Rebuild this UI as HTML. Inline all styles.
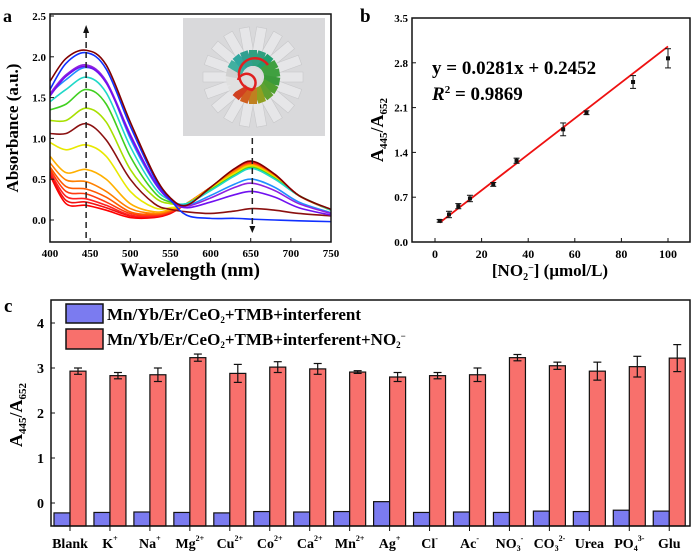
<!DOCTYPE html>
<html><head><meta charset="utf-8"><style>
html,body{margin:0;padding:0;background:#fff}
svg{display:block;font-family:"Liberation Serif",serif;font-weight:bold}
</style></head><body>
<svg id="fig" width="700" height="553" viewBox="0 0 700 553" xmlns="http://www.w3.org/2000/svg">
<g id="pa"></g>
<g id="pb"></g>
<g id="pc"></g>
</svg>
<script>
// ---------- Panel a data ----------
const waves = [400,420,445,470,500,530,550,570,600,630,652,680,710,750];
const specColors = ["#ff0000","#f01010","#ff2020","#ff3a10","#ff5a00","#ff8000","#ffb000","#e8e800","#8b1010","#a8e000","#40d020","#20d8c8","#2090ff","#9020e0","#7010f0","#1030ff","#800000"];
const specValues = [
[0.55,0.20,0.18,0.12,0.03,0.03,0.08,0.20,0.40,0.62,0.71,0.56,0.30,0.12],
[0.57,0.24,0.22,0.15,0.05,0.04,0.09,0.20,0.40,0.62,0.70,0.55,0.30,0.12],
[0.59,0.29,0.26,0.18,0.06,0.05,0.10,0.20,0.40,0.61,0.70,0.55,0.30,0.12],
[0.62,0.35,0.32,0.22,0.08,0.06,0.10,0.20,0.40,0.60,0.69,0.54,0.30,0.12],
[0.65,0.41,0.38,0.28,0.10,0.07,0.11,0.20,0.40,0.60,0.68,0.54,0.30,0.12],
[0.70,0.49,0.47,0.35,0.14,0.08,0.12,0.20,0.40,0.60,0.68,0.53,0.30,0.12],
[0.78,0.58,0.62,0.50,0.20,0.10,0.13,0.20,0.39,0.58,0.67,0.53,0.30,0.12],
[0.95,0.86,0.92,0.78,0.35,0.15,0.15,0.20,0.38,0.57,0.66,0.52,0.30,0.12],
[1.06,1.06,1.18,0.98,0.50,0.20,0.13,0.10,0.08,0.11,0.14,0.12,0.08,0.05],
[1.22,1.22,1.37,1.20,0.62,0.28,0.20,0.20,0.37,0.55,0.65,0.51,0.30,0.12],
[1.35,1.42,1.60,1.42,0.78,0.34,0.22,0.20,0.37,0.55,0.64,0.51,0.30,0.12],
[1.45,1.60,1.75,1.56,0.90,0.40,0.24,0.20,0.36,0.54,0.63,0.50,0.30,0.12],
[1.55,1.72,1.87,1.70,1.00,0.46,0.25,0.18,0.30,0.44,0.50,0.40,0.22,0.09],
[1.55,1.78,1.90,1.70,1.05,0.48,0.25,0.17,0.27,0.40,0.45,0.36,0.20,0.08],
[1.52,1.76,1.88,1.68,1.03,0.47,0.24,0.15,0.22,0.31,0.35,0.28,0.15,0.06],
[1.60,1.92,2.05,1.85,1.15,0.52,0.25,0.06,0.02,0.02,0.01,0.00,-0.01,-0.02],
[1.70,1.98,2.08,1.90,1.20,0.55,0.27,0.18,0.40,0.63,0.72,0.56,0.30,0.13]
];
const aXTicks = [400,450,500,550,600,650,700,750];
const aYTicks = [0.0,0.5,1.0,1.5,2.0,2.5];
// ---------- Panel b data ----------
const bConc = [2,6,10,15,25,35,55,65,85,100];
const bRatio = [0.33,0.43,0.56,0.68,0.90,1.27,1.76,2.02,2.50,2.87];
const bErr = [0.02,0.05,0.04,0.05,0.03,0.04,0.10,0.03,0.10,0.15];
const bFit = [0.0281,0.2452];
const bXTicks = [0,20,40,60,80,100];
const bYTicks = [0.0,0.7,1.4,2.1,2.8,3.5];
// ---------- Panel c data ----------
const cCats = ["Blank","K","Na","Mg","Cu","Co","Ca","Mn","Ag","Cl","Ac","NO","CO","Urea","PO","Glu"];
const cSup = ["","+","+","2+","2+","2+","2+","2+","+","-","-","-","2-","","3-",""];
const cSub = ["","","","","","","","","","","","3","3","","4",""];
const cBlue = [-0.22,-0.21,-0.20,-0.21,-0.22,-0.19,-0.20,-0.19,0.03,-0.21,-0.20,-0.21,-0.18,-0.19,-0.16,-0.18];
const cRed = [2.93,2.83,2.85,3.23,2.88,3.02,2.98,2.91,2.80,2.83,2.85,3.23,3.05,2.93,3.03,3.22];
const cErr = [0.07,0.07,0.15,0.08,0.20,0.12,0.12,0.03,0.10,0.07,0.15,0.07,0.08,0.20,0.23,0.30];
const cYTicks = [0,1,2,3,4];

const NS="http://www.w3.org/2000/svg";
function mk(parent,tag,attrs,text){const e=document.createElementNS(NS,tag);for(const k in attrs)e.setAttribute(k,attrs[k]);if(text!==undefined)e.textContent=text;parent.appendChild(e);return e;}
function smooth(pts){let d="M"+pts[0][0]+","+pts[0][1];for(let i=0;i<pts.length-1;i++){const p0=pts[i-1]||pts[i],p1=pts[i],p2=pts[i+1],p3=pts[i+2]||p2;const c1x=p1[0]+(p2[0]-p0[0])/6,c1y=p1[1]+(p2[1]-p0[1])/6,c2x=p2[0]-(p3[0]-p1[0])/6,c2y=p2[1]-(p3[1]-p1[1])/6;d+=`C${c1x},${c1y} ${c2x},${c2y} ${p2[0]},${p2[1]}`;}return d;}

// ===== Panel a =====
const pa=document.getElementById('pa');
const ax=w=>50+(w-400)*(281/350), ay=v=>220-v*81.6;
const ins=mk(pa,'g',{});


mk(ins,'rect',{x:183,y:18,width:142,height:118,fill:"#d9d9db"});
for(let i=0;i<18;i++){const an=i*20*Math.PI/180;const cx=253+Math.cos(an)*36,cy=77+Math.sin(an)*36;
 mk(ins,'rect',{x:cx-5,y:cy-14,width:10,height:28,fill:"#e6e6e8",stroke:"#c8c8ca","stroke-width":0.6,transform:`rotate(${i*20+90} ${cx} ${cy})`});}
const petal=["#30a080","#30a080","#20a070","#40a040","#40a040","#3a9a3a","#50a030","#60a030","#90a020","#c08020","#d06020","#d04020","#e0e0e0","#e0e0e0","#d0d0d0","#40b0a0","#30a8a0","#30a090"];
for(let i=0;i<18;i++){const an=(i*20-90)*Math.PI/180;const cx=253+Math.cos(an)*19,cy=77+Math.sin(an)*19;
 mk(ins,'rect',{x:cx-4,y:cy-8,width:8,height:16,fill:petal[i],transform:`rotate(${i*20} ${cx} ${cy})`});}
mk(ins,'circle',{cx:253,cy:77,r:9,fill:"#dcdcdc"});
mk(ins,'path',{d:"M238,80 A9,9 0 1 1 252,90 A16,16 0 1 1 268,65",fill:"none",stroke:"#e02020","stroke-width":2.5});
specValues.forEach((s,i)=>{const p=mk(pa,'path',{d:smooth(waves.map((w,j)=>[ax(w),ay(s[j])])),fill:"none",stroke:specColors[i],"stroke-width":1.6});
 
 });
mk(pa,'line',{x1:ax(445),y1:238,x2:ax(445),y2:33,stroke:"#222","stroke-width":1.5,"stroke-dasharray":"6,4"});
mk(pa,'path',{d:`M${ax(445)-3},33 L${ax(445)+3},33 L${ax(445)},25Z`,fill:"#111"});
mk(pa,'line',{x1:ax(652),y1:138,x2:ax(652),y2:224,stroke:"#222","stroke-width":1.5,"stroke-dasharray":"6,4"});
mk(pa,'path',{d:`M${ax(652)-3},226 L${ax(652)+3},226 L${ax(652)},233Z`,fill:"#111"});
const fa=mk(pa,'rect',{x:50,y:14,width:281,height:228,fill:"none",stroke:"#111","stroke-width":1.5});

aXTicks.forEach(t=>{mk(pa,'line',{x1:ax(t),y1:242,x2:ax(t),y2:238,stroke:"#111"});mk(pa,'text',{x:ax(t),y:257,"font-size":11,"text-anchor":"middle"},t);});
aYTicks.forEach(t=>{mk(pa,'line',{x1:50,y1:ay(t),x2:54,y2:ay(t),stroke:"#111"});mk(pa,'text',{x:46,y:ay(t)+4,"font-size":11,"text-anchor":"end"},t.toFixed(1));});
let t=mk(pa,'text',{x:190,y:276,"font-size":19,"text-anchor":"middle"},"Wavelength (nm)");
t=mk(pa,'text',{x:0,y:0,"font-size":17,"text-anchor":"middle",transform:"translate(18,128) rotate(-90)"},"Absorbance (a.u.)");
t=mk(pa,'text',{x:3,y:22,"font-size":18},"a");

// ===== Panel b =====
const pb=document.getElementById('pb');
const bx=v=>435+v*2.33, by=v=>242-v*64;
const fb=mk(pb,'rect',{x:412,y:18,width:278,height:224,fill:"none",stroke:"#111","stroke-width":1.5});

bXTicks.forEach(v=>{mk(pb,'line',{x1:bx(v),y1:242,x2:bx(v),y2:238,stroke:"#111"});mk(pb,'text',{x:bx(v),y:258,"font-size":12,"text-anchor":"middle"},v);});
bYTicks.forEach(v=>{mk(pb,'line',{x1:412,y1:by(v),x2:416,y2:by(v),stroke:"#111"});mk(pb,'text',{x:408,y:by(v)+4,"font-size":11,"text-anchor":"end"},v.toFixed(1));});
const fit=mk(pb,'line',{x1:bx(bConc[0]),y1:by(bFit[0]*bConc[0]+bFit[1]),x2:bx(bConc[bConc.length-1]),y2:by(bFit[0]*bConc[bConc.length-1]+bFit[1]),stroke:"#ee1111","stroke-width":1.8});

bConc.forEach((c,i)=>{const g=mk(pb,'g',{});
 const x=bx(c),y1=by(bRatio[i]+bErr[i]),y2=by(bRatio[i]-bErr[i]);
 mk(g,'line',{x1:x,y1:y1,x2:x,y2:y2,stroke:"#111"});mk(g,'line',{x1:x-3,y1:y1,x2:x+3,y2:y1,stroke:"#111"});mk(g,'line',{x1:x-3,y1:y2,x2:x+3,y2:y2,stroke:"#111"});
 mk(g,'rect',{x:x-2,y:by(bRatio[i])-2,width:4,height:4,fill:"#111"});});
t=mk(pb,'text',{x:432,y:74,"font-size":19},"y = 0.0281x + 0.2452");
t=mk(pb,'text',{x:432,y:100,"font-size":19});t.innerHTML='<tspan font-style="italic">R</tspan><tspan font-size="11" dy="-7">2</tspan><tspan dy="7"> = 0.9869</tspan>';
t=mk(pb,'text',{x:550,y:276,"font-size":17,"text-anchor":"middle"});t.innerHTML='[NO<tspan font-size="10" dy="4">2</tspan><tspan font-size="10" dy="-9">−</tspan><tspan dy="5">] (μmol/L)</tspan>';
t=mk(pb,'text',{x:0,y:0,"font-size":18,"text-anchor":"middle",transform:"translate(383,130) rotate(-90)"});t.innerHTML='A<tspan font-size="11" dy="4">445</tspan><tspan dy="-4">/A</tspan><tspan font-size="11" dy="4">652</tspan>';
t=mk(pb,'text',{x:360,y:22,"font-size":19},"b");

// ===== Panel c =====
const pc=document.getElementById('pc');
const cx=i=>70+i*39.95, cy=v=>503-v*45, cBot=526;
cCats.forEach((c,i)=>{
 const b=mk(pc,'rect',{x:cx(i)-16,y:cy(cBlue[i]),width:16,height:cBot-cy(cBlue[i]),fill:"#7b7bf0",stroke:"#111","stroke-width":1.2});
 
 const r=mk(pc,'rect',{x:cx(i),y:cy(cRed[i]),width:16,height:cBot-cy(cRed[i]),fill:"#f8706c",stroke:"#111","stroke-width":1.2});
 
 const ex=cx(i)+8,e1=cy(cRed[i]+cErr[i]),e2=cy(cRed[i]-cErr[i]);
 mk(pc,'line',{x1:ex,y1:e1,x2:ex,y2:e2,stroke:"#111","stroke-width":1.2});
 mk(pc,'line',{x1:ex-4,y1:e1,x2:ex+4,y2:e1,stroke:"#111","stroke-width":1.2});
 mk(pc,'line',{x1:ex-4,y1:e2,x2:ex+4,y2:e2,stroke:"#111","stroke-width":1.2});
 mk(pc,'line',{x1:cx(i),y1:526,x2:cx(i),y2:531,stroke:"#111"});
 const lt=mk(pc,'text',{x:cx(i),y:548,"font-size":14,"text-anchor":"middle"});
 let h=c; if(cSub[i])h+=`<tspan font-size="8" dy="3">${cSub[i]}</tspan>`; if(cSup[i])h+=`<tspan font-size="8" dy="${cSub[i]?-10:-7}">${cSup[i]}</tspan>`;
 lt.innerHTML=h;
 
 
});
const fc=mk(pc,'rect',{x:51,y:300,width:639,height:226,fill:"none",stroke:"#111","stroke-width":1.5});

cYTicks.forEach(v=>{mk(pc,'line',{x1:51,y1:cy(v),x2:55,y2:cy(v),stroke:"#111"});mk(pc,'text',{x:44,y:cy(v)+5,"font-size":14,"text-anchor":"end"},v);});
let lg=mk(pc,'g',{});
mk(lg,'rect',{x:66,y:304,width:37,height:19,fill:"#7b7bf0",stroke:"#111","stroke-width":1.5});
mk(lg,'text',{x:107,y:320,"font-size":17}).innerHTML='Mn/Yb/Er/CeO<tspan font-size="9" dy="3">2</tspan><tspan dy="-3">+TMB+interferent</tspan>';
lg=mk(pc,'g',{});
mk(lg,'rect',{x:66,y:329,width:37,height:20,fill:"#f8706c",stroke:"#111","stroke-width":1.5});
mk(lg,'text',{x:107,y:345,"font-size":17}).innerHTML='Mn/Yb/Er/CeO<tspan font-size="9" dy="3">2</tspan><tspan dy="-3">+TMB+interferent+NO</tspan><tspan font-size="9" dy="3">2</tspan><tspan font-size="9" dy="-9">−</tspan>';
t=mk(pc,'text',{x:0,y:0,"font-size":18,"text-anchor":"middle",transform:"translate(22,415) rotate(-90)"});t.innerHTML='A<tspan font-size="11" dy="4">445</tspan><tspan dy="-4">/A</tspan><tspan font-size="11" dy="4">652</tspan>';
t=mk(pc,'text',{x:4,y:312,"font-size":19},"c");
</script>
</body></html>
